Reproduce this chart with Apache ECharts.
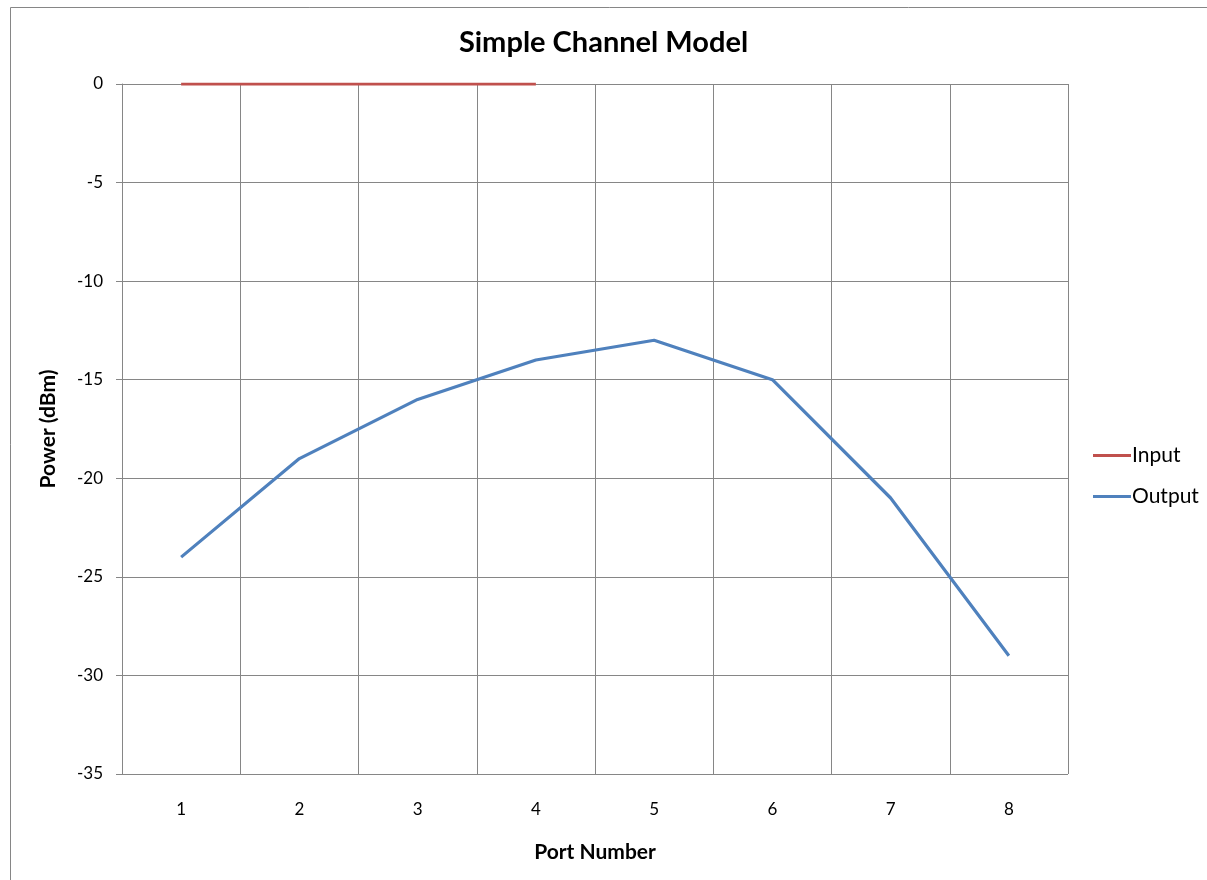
<!DOCTYPE html>
<html><head><meta charset="utf-8">
<script src="https://cdn.jsdelivr.net/npm/echarts@6/dist/echarts.min.js"></script>
<style>html,body{margin:0;padding:0;background:#fff}#c{width:1207px;height:880px}</style>
</head><body><div id="c"></div>
<script>
const categories = ['1','2','3','4','5','6','7','8'];
const inputValues = [0, 0, 0, 0, null, null, null, null];
const outputValues = [-24, -19, -16, -14, -13, -15, -21, -29];
const FONT = 'Lato, "Open Sans", sans-serif';
const chart = echarts.init(document.getElementById('c'), null, {renderer:'canvas'});
chart.setOption({
  backgroundColor:'#fff',
  animation:false,
  title:{text:'Simple Channel Model', left:'center', top:23,
    textStyle:{fontFamily:FONT, fontSize:29, fontWeight:'bold', color:'#000'}},
  graphic:[{type:'rect', shape:{x:10.5,y:7.5,width:1220,height:900},
    style:{fill:'none', stroke:'#868686', lineWidth:1}, silent:true}],
  grid:{left:122, right:139, top:84, bottom:106},
  legend:{orient:'vertical', left:1088, top:440, itemWidth:38, itemHeight:3, itemGap:20, icon:'rect',
    textStyle:{fontFamily:FONT, fontSize:21, color:'#000', padding:[0,0,0,-4]},
    data:['Input','Output']},
  xAxis:{type:'category', data:categories, boundaryGap:true,
    name:'Port Number', nameLocation:'middle', nameGap:68,
    nameTextStyle:{fontFamily:FONT, fontSize:21, fontWeight:'bold', color:'#000'},
    axisLine:{lineStyle:{color:'#868686', width:1}},
    axisTick:{show:true, length:6, interval:0, lineStyle:{color:'#868686'}},
    axisLabel:{fontFamily:FONT, fontSize:17, color:'#000', margin:27, interval:0},
    splitLine:{show:true, interval:0, lineStyle:{color:'#868686', width:1}}},
  yAxis:{type:'value', min:-35, max:0, interval:5,
    name:'Power (dBm)', nameLocation:'middle', nameGap:63,
    nameTextStyle:{fontFamily:FONT, fontSize:21, fontWeight:'bold', color:'#000'},
    axisLine:{show:true, lineStyle:{color:'#868686', width:1}},
    axisTick:{show:true, length:6, inside:false, lineStyle:{color:'#868686'}},
    axisLabel:{fontFamily:FONT, fontSize:17, color:'#000', margin:19},
    splitLine:{show:true, lineStyle:{color:'#868686', width:1}}},
  series:[
    {name:'Input', type:'line', data:inputValues, symbol:'none', connectNulls:false,
      lineStyle:{color:'#C0504D', width:3.2}, itemStyle:{color:'#C0504D'}},
    {name:'Output', type:'line', data:outputValues, symbol:'none',
      lineStyle:{color:'#4F81BD', width:3.2}, itemStyle:{color:'#4F81BD'}}
  ]
});
</script></body></html>
